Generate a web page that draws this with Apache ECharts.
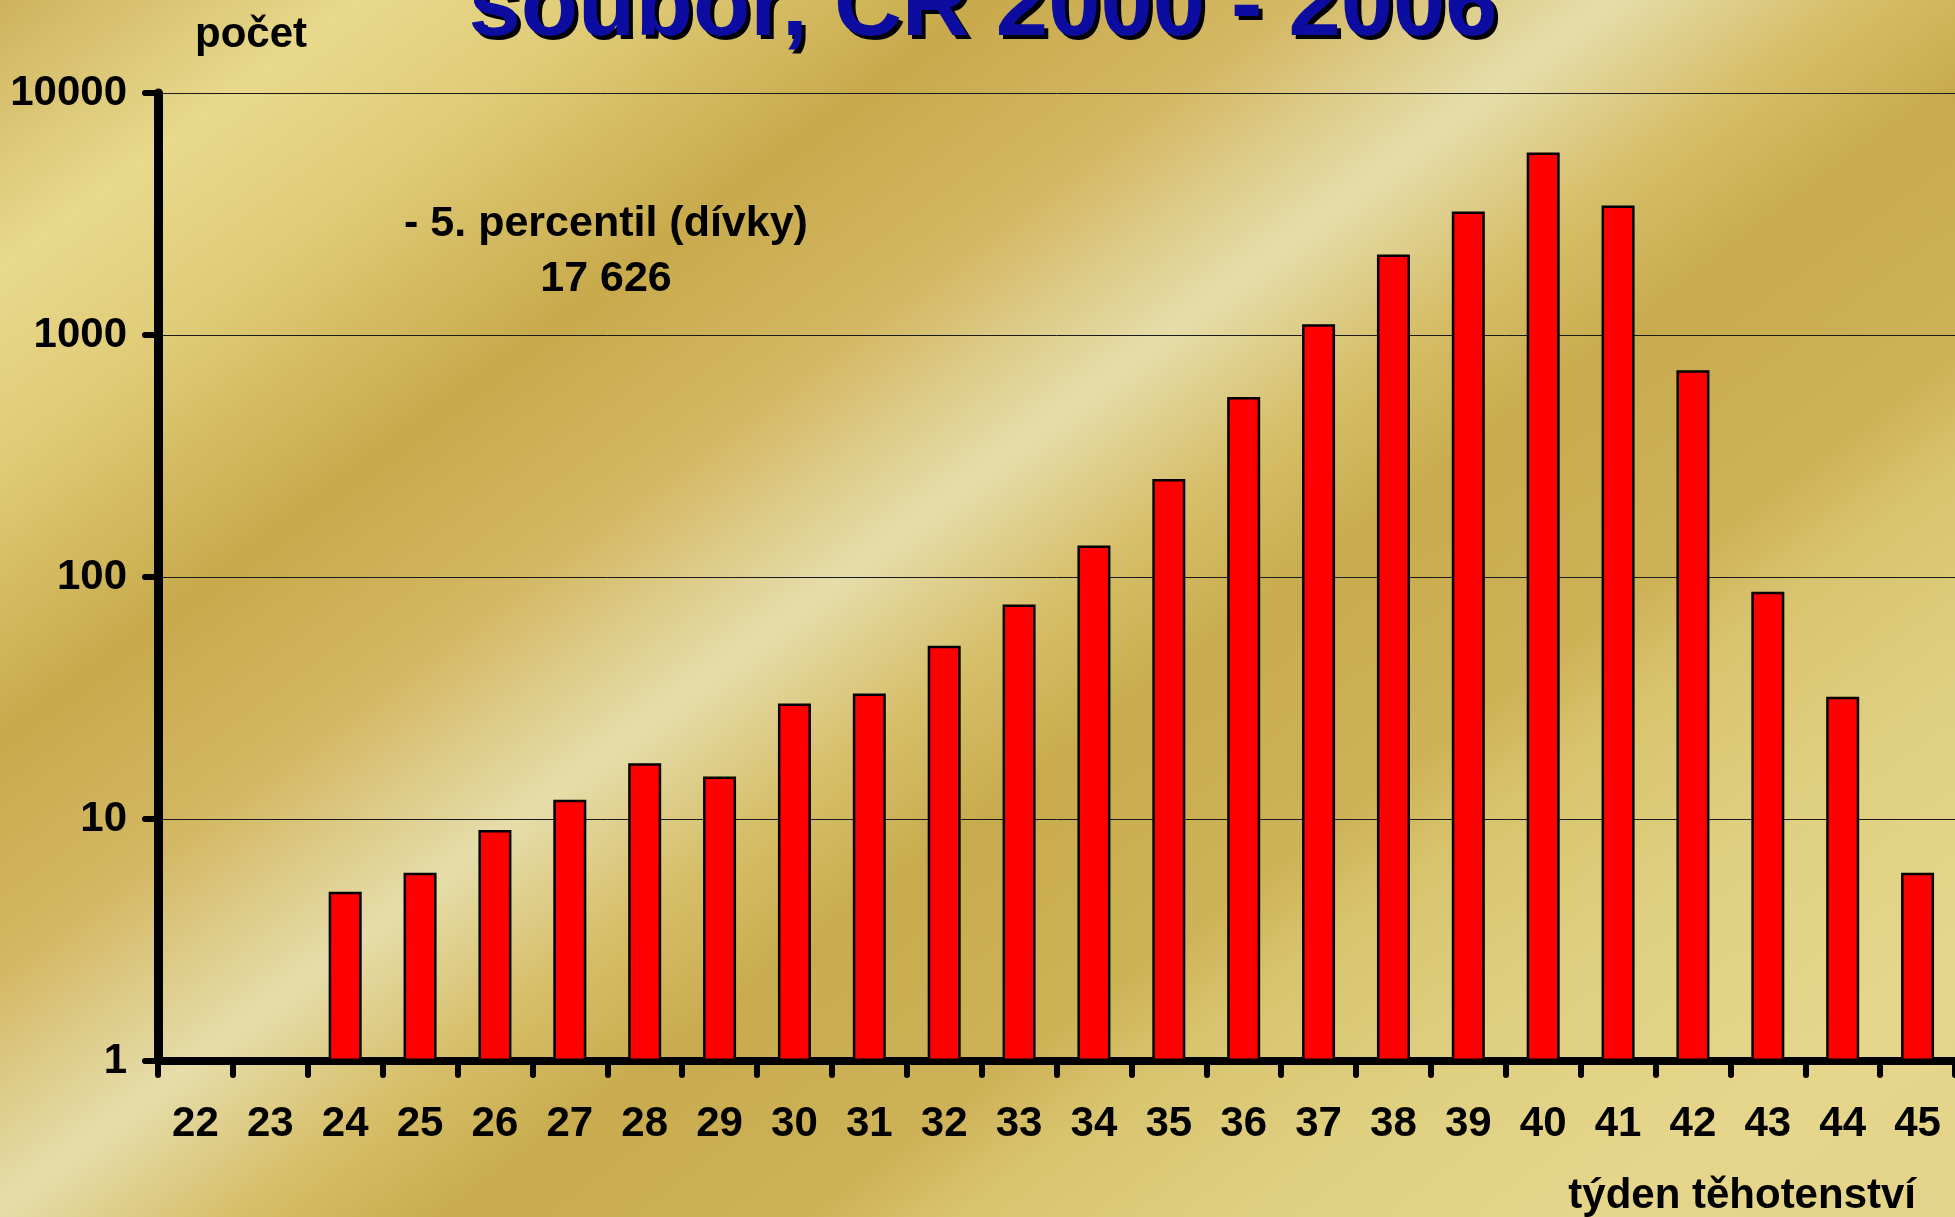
<!DOCTYPE html>
<html>
<head>
<meta charset="utf-8">
<title>5. percentil (dívky)</title>
<script src="https://cdn.jsdelivr.net/npm/echarts@6/dist/echarts.min.js"></script>
<style>
html, body { margin: 0; padding: 0; }
#chart { width: 1955px; height: 1217px; }
</style>
</head>
<body>
<div id="chart"></div>
<script>
// týden těhotenství
const weeks = ['22', '23', '24', '25', '26', '27', '28', '29', '30', '31', '32', '33',
  '34', '35', '36', '37', '38', '39', '40', '41', '42', '43', '44', '45']
// počet (22. a 23. týden bez hodnoty)
const counts = [null, null, 5, 6, 9, 12, 17, 15, 30, 33, 52, 77,
  135, 254, 555, 1108, 2150, 3235, 5680, 3430, 715, 87, 32, 6]
// osa y (log)
const yTicks = [1, 10, 100, 1000, 10000]

const titleText = 'soubor, ČR 2000 - 2006'
const noteText = '- 5. percentil (dívky)\n17 626'
const yName = 'počet'
const xName = 'týden těhotenství'

const FONT = '"Liberation Sans", Arial, sans-serif'

const chart = echarts.init(document.getElementById('chart'))

// zlaty podklad - diagonalni pruhy
const bg = new echarts.graphic.LinearGradient(0, 0, 1288, 1718, [
  { offset: 0.00, color: '#cdb25e' },
  { offset: 0.10, color: '#e8d98c' },
  { offset: 0.17, color: '#e0cc78' },
  { offset: 0.275, color: '#c8aa4c' },
  { offset: 0.36, color: '#d3b762' },
  { offset: 0.45, color: '#e6ddaa' },
  { offset: 0.52, color: '#d6be68' },
  { offset: 0.58, color: '#c8ab4e' },
  { offset: 0.68, color: '#ceb258' },
  { offset: 0.72, color: '#d8c46e' },
  { offset: 0.80, color: '#dfcf80' },
  { offset: 0.90, color: '#e6d68c' },
  { offset: 1.00, color: '#e3d48a' }
], true)

const option = {
  animation: false,
  grid: {
    left: 158,
    right: -3,
    top: 93,
    bottom: 156
  },
  xAxis: {
    type: 'category',
    data: weeks,
    boundaryGap: true,
    axisLine: {
      lineStyle: { color: '#000', width: 8, cap: 'round' }
    },
    axisTick: {
      show: true,
      length: 14,
      lineStyle: { color: '#000', width: 6, cap: 'round' }
    },
    axisLabel: {
      margin: 42,
      color: '#000',
      fontFamily: FONT,
      fontWeight: 'bold',
      fontSize: 42
    },
    splitLine: { show: false }
  },
  yAxis: {
    type: 'log',
    logBase: 10,
    min: yTicks[0],
    max: yTicks[yTicks.length - 1],
    axisLine: {
      show: true,
      lineStyle: { color: '#000', width: 9, cap: 'round' }
    },
    axisTick: {
      show: true,
      length: 13,
      lineStyle: { color: '#000', width: 6, cap: 'round' }
    },
    axisLabel: {
      margin: 31,
      color: '#000',
      fontFamily: FONT,
      fontWeight: 'bold',
      fontSize: 42,
      formatter: v => String(v)
    },
    splitLine: {
      show: true,
      lineStyle: { color: '#1a1a1a', width: 1 }
    },
    minorTick: { show: false },
    minorSplitLine: { show: false }
  },
  series: [{
    type: 'bar',
    name: yName,
    data: counts,
    barWidth: 33,
    itemStyle: {
      color: '#ff0000',
      borderColor: '#000',
      borderWidth: 2.5
    }
  }],
  graphic: [{
    type: 'rect',
    z: -100,
    silent: true,
    shape: { x: 0, y: 0, width: 1955, height: 1217 },
    style: { fill: bg }
  }, {
    // stin nadpisu
    type: 'text',
    z: 10,
    x: 987,
    y: 13,
    style: {
      text: titleText,
      font: 'bold 94px ' + FONT,
      fill: '#000',
      align: 'center',
      verticalAlign: 'middle'
    }
  }, {
    type: 'text',
    z: 11,
    x: 983,
    y: 9,
    style: {
      text: titleText,
      font: 'bold 94px ' + FONT,
      fill: '#0c0ca0',
      align: 'center',
      verticalAlign: 'middle'
    }
  }, {
    type: 'text',
    z: 10,
    x: 251,
    y: 35,
    style: {
      text: yName,
      font: 'bold 42px ' + FONT,
      fill: '#000',
      align: 'center',
      verticalAlign: 'middle'
    }
  }, {
    type: 'text',
    z: 10,
    x: 1916,
    y: 1196,
    style: {
      text: xName,
      font: 'bold 42px ' + FONT,
      fill: '#000',
      align: 'right',
      verticalAlign: 'middle'
    }
  }, {
    type: 'text',
    z: 10,
    x: 606,
    y: 197,
    style: {
      text: noteText,
      font: 'bold 43px ' + FONT,
      lineHeight: 55,
      fill: '#000',
      align: 'center',
      verticalAlign: 'top'
    }
  }]
}

chart.setOption(option)
</script>
</body>
</html>
